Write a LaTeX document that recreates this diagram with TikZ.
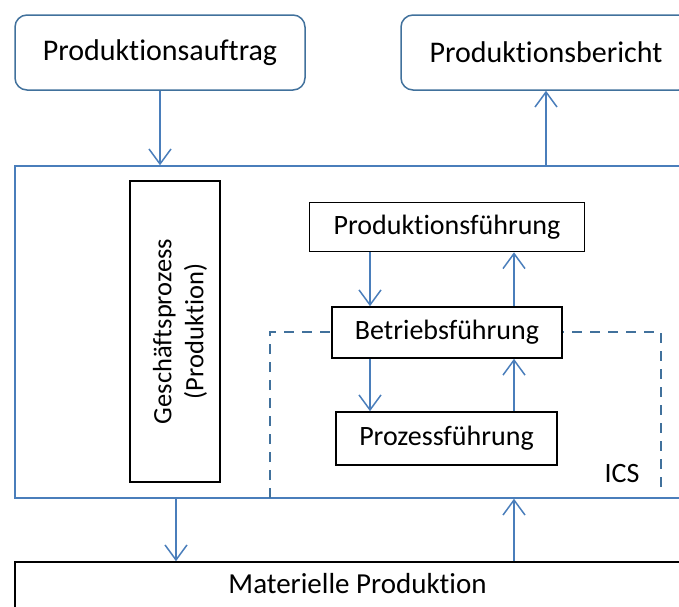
\documentclass[tikz,border=0pt]{standalone}
\usepackage{fontspec}
\setmainfont{Carlito}[Ligatures=NoCommon]
\usepackage{xcolor}
\usetikzlibrary{arrows.meta,positioning,calc}
\definecolor{lineblue}{HTML}{4A7EBB}
\definecolor{frameblue}{HTML}{41719C}

\begin{document}
\begin{tikzpicture}[
			x=1pt, y=-1pt,
			topblock/.style={rectangle, draw=frameblue, line width=1.5pt, rounded corners=12pt, fill=white, minimum width=290pt, minimum height=75pt, align=center, font=\fontsize{30}{36}\selectfont},
			levelblock/.style={rectangle, draw=black, line width=1.6pt, fill=white, align=center, font=\fontsize{28}{33}\selectfont},
			frame/.style={rectangle, draw=lineblue, line width=1.5pt},
			arrow/.style={-{Straight Barb[length=15pt,width=22pt]}, draw=lineblue, line width=1.5pt},
			icsline/.style={draw=frameblue, line width=1.6pt, dash pattern=on 10pt off 8pt}
			]
			
			\useasboundingbox (0,0) rectangle (679,606);
			\clip (0,0) rectangle (679,606);
			
			% Order and report
			\node[topblock] (auftrag) at (160,52.5) {Produktionsauftrag};
			\node[topblock] (bericht) at (546,52.5) {Produktionsbericht};
			
			% Control frame
			\node[frame, minimum width=685pt, minimum height=332pt] (ctrl) at (357.5,332) {};
			
			% ICS region (drawn first, boxes cover it)
			\draw[icsline] (270,498) -- (270,332) -- (661,332) -- (661,490);
			\node[font=\fontsize{28}{32}\selectfont] (ics) at (622,473) {ICS};
			
			% Business process
			\node[levelblock, minimum width=90pt, minimum height=301pt] (gp) at (175,331.5) {};
			\node[rotate=90, align=center, font=\fontsize{26.5}{32}\selectfont] (gptext) at ($(gp.center)+(5,0)$) {Geschäftsprozess\\(Produktion)};
			
			% Levels
			\node[levelblock, minimum width=275pt, minimum height=49pt] (pf) at (447,227) {Produktionsführung};
			\node[levelblock, minimum width=230pt, minimum height=51pt] (bf) at (447,332.5) {Betriebsführung};
			\node[levelblock, minimum width=221pt, minimum height=53pt] (prf) at (446.5,438.5) {Prozessführung};
			
			% Material production
			\node[levelblock, minimum width=685pt, minimum height=60pt, text depth=18pt, font=\fontsize{29}{34}\selectfont] (mat) at (357.5,592) {Materielle Produktion};
			
			% Lanes for the arrows
			\coordinate (dn) at (370,0);
			\coordinate (up) at (514,0);
			\coordinate (mdn) at (176,0);
			
			% Connections
			\draw[arrow] (auftrag.south) -- (auftrag |- ctrl.north);
			\draw[arrow] (bericht |- ctrl.north) -- (bericht.south);
			
			\draw[arrow] (pf.south -| dn) -- (bf.north -| dn);
			\draw[arrow] (bf.north -| up) -- (pf.south -| up);
			\draw[arrow] (bf.south -| dn) -- (prf.north -| dn);
			\draw[arrow] (prf.north -| up) -- (bf.south -| up);
			
			\draw[arrow] (ctrl.south -| mdn) -- (mat.north -| mdn);
			\draw[arrow] (mat.north -| up) -- (ctrl.south -| up);
			
		\end{tikzpicture}
\end{document}
